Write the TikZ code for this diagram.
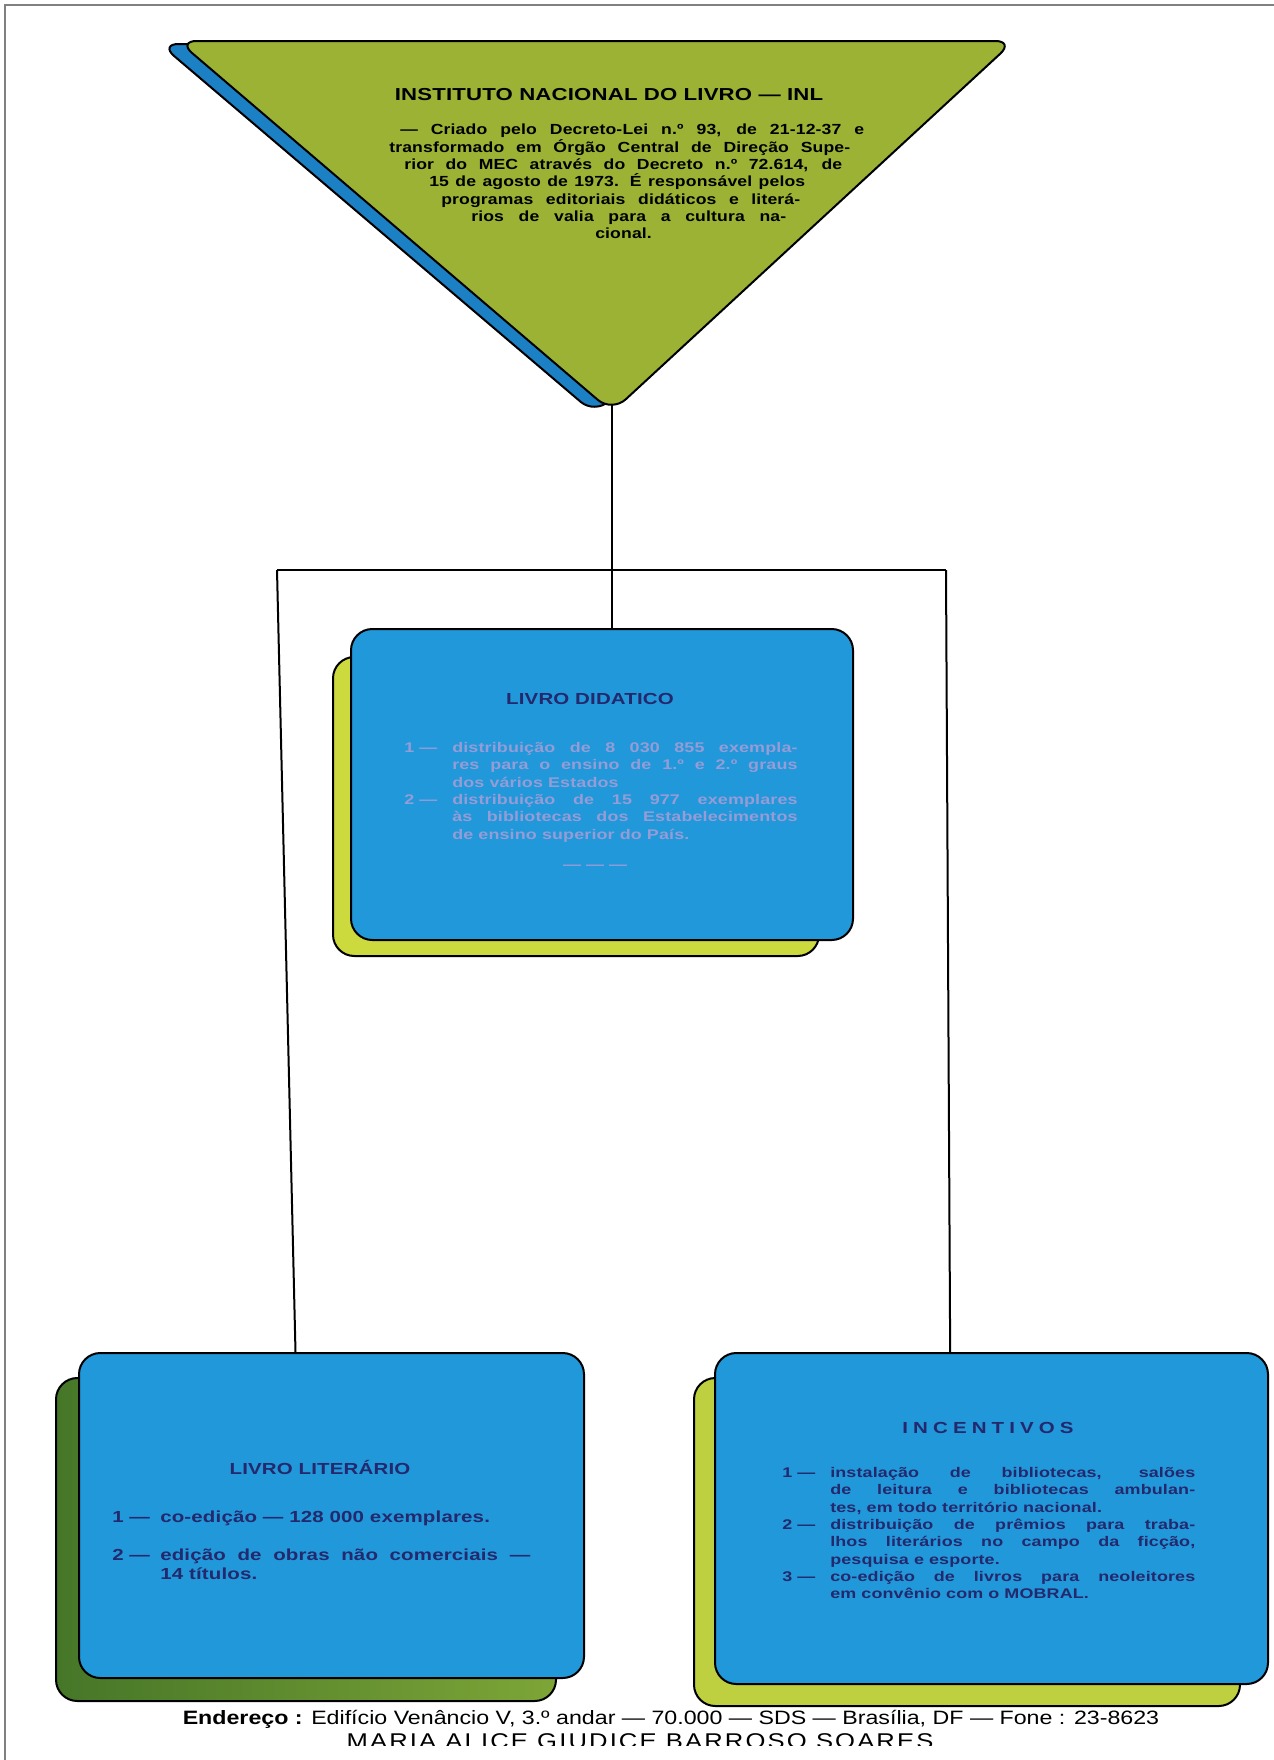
\documentclass[tikz,border=0pt]{standalone}
\usepackage{fontspec}
\setmainfont{Liberation Sans}
\newfontfamily\chartfont[FakeStretch=1.28,LetterSpace=1]{Liberation Sans}
\newfontfamily\inlfont[FakeStretch=1.2,LetterSpace=1]{Liberation Sans}
\newfontfamily\spacedfont[FakeStretch=1.28,LetterSpace=32]{Liberation Sans}
\newfontfamily\footfont[FakeStretch=1.2]{Liberation Sans}
\newfontfamily\authorfont[FakeStretch=1.2,LetterSpace=10]{Liberation Sans}
\usepackage{tikz}

\tolerance=9999
\hyphenpenalty=10000
\exhyphenpenalty=10000

\definecolor{inlgreen}{RGB}{155,178,52}
\definecolor{inlblue}{RGB}{28,128,196}
\definecolor{boxblue}{RGB}{33,152,218}
\definecolor{didshadow}{RGB}{205,218,62}
\definecolor{litdark}{RGB}{70,118,40}
\definecolor{litlight}{RGB}{125,165,55}
\definecolor{incshadow}{RGB}{190,208,64}
\definecolor{navytext}{RGB}{36,40,108}
\definecolor{paletext}{RGB}{150,156,214}

\newcommand{\numitem}[2]{\par\noindent\hangindent=36pt\hangafter=1\makebox[36pt][l]{#1 —}#2\par}

\tikzset{
  outline/.style={draw=black, line width=1.5pt, line join=round},
  card/.style={outline, rounded corners=16pt, inner sep=0pt},
  link/.style={draw=black, line width=1.5pt},
  cardtitle/.style={inner sep=0pt, font=\chartfont\bfseries\fontsize{12}{14}\selectfont},
  cardtext/.style={anchor=north west, inner sep=0pt, text width=#1, align=justify,
    font=\chartfont\bfseries\fontsize{10.5}{13}\selectfont},
}

\begin{document}
\begin{tikzpicture}[x=0.75pt,y=0.75pt,yscale=-1]
\useasboundingbox (0,0) rectangle (1274,1760);

%Straight Lines (page edge)
\draw [color=gray, line width=0.8pt] (5,1760) -- (5,5) -- (1274,5) ;

%Shape: Triangle (shadow)
\draw [outline, fill=inlblue, rounded corners=14pt] (160,44) -- (996,44) -- (595,414) -- cycle ;
%Shape: Triangle
\draw [outline, fill=inlgreen, rounded corners=14pt] (178,41) -- (1014,41) -- (612,412) -- cycle ;
\coordinate (inl-tip) at (612,404) ;

%Rounded Rect (shadows)
\node [card, fill=didshadow, minimum width=364.5pt, minimum height=224.25pt] (didatico-sombra) at (576,806.5) {} ;
\node [card, left color=litdark, right color=litlight, minimum width=375pt, minimum height=242.25pt] (literario-sombra) at (306,1539.5) {} ;
\node [card, fill=incshadow, minimum width=409.5pt, minimum height=246pt] (incentivos-sombra) at (967,1542) {} ;

%Rounded Rect
\node [card, fill=boxblue, minimum width=376.5pt, minimum height=233.25pt] (didatico) at (602,784.5) {} ;
\node [card, fill=boxblue, minimum width=378.75pt, minimum height=243.75pt] (literario) at (331.5,1515.5) {} ;
\node [card, fill=boxblue, minimum width=414.75pt, minimum height=248.25pt] (incentivos) at (991.5,1518.5) {} ;

%Straight Lines
\coordinate (jl) at (277,570) ;
\coordinate (jr) at (946,570) ;
\draw [link] (inl-tip) -- (inl-tip |- didatico.north) ;
\draw [link] (jl) -- (jr) ;
\draw [link] (jl) -- ([xshift=-27pt]literario.north) ;
\draw [link] (jr) -- ([xshift=-31pt]incentivos.north) ;

% Text Node
\node [inner sep=0pt, font=\chartfont\bfseries\fontsize{13}{15}\selectfont] (inl) at (609,95) {INSTITUTO NACIONAL DO LIVRO — INL} ;
% Text Node
\node [cardtext=356.25pt, font=\inlfont\bfseries\fontsize{11}{13}\selectfont] (inl-texto) at (389,124)
  {\noindent\parshape 7 8.25pt 348pt 0pt 345.75pt 11.25pt 328.5pt 30pt 282pt 39pt 269.25pt 61.5pt 236.25pt 154.5pt 75pt
   — Criado pelo Decreto-Lei n.º 93, de 21-12-37 e\linebreak
   transformado em Órgão Central de Direção Supe-\linebreak
   rior do MEC através do Decreto n.º 72.614, de\linebreak
   15 de agosto de 1973. É responsável pelos\linebreak
   programas editoriais didáticos e literá-\linebreak
   rios de valia para a cultura na-\linebreak
   cional.\par} ;

% Text Node
\node [cardtitle, text=navytext] (didatico-titulo) at (590,699) {LIVRO DIDATICO} ;
% Text Node
\node [cardtext=295pt, text=paletext] (didatico-texto) at (404,735)
  {\numitem{1}{distribuição de 8 030 855 exempla-\linebreak res para o ensino de 1.º e 2.º graus\linebreak dos vários Estados}%
   \numitem{2}{distribuição de 15 977 exemplares\linebreak às bibliotecas dos Estabelecimentos\linebreak de ensino superior do País.}} ;
% Text Node
\node [inner sep=0pt, text=paletext, font=\chartfont\bfseries\fontsize{10.5}{13}\selectfont] (didatico-fim) at (595,867) {— — —} ;

% Text Node
\node [cardtitle, text=navytext] (literario-titulo) at (320,1467) {LIVRO LITERÁRIO} ;
% Text Node
\node [cardtext=313.5pt, text=navytext, font=\chartfont\bfseries\fontsize{12}{14.3}\selectfont] (literario-texto) at (112,1503)
  {\numitem{1}{co-edição — 128 000 exemplares.}\vskip 14pt
   \numitem{2}{edição de obras não comerciais —\linebreak 14 títulos.}} ;

% Text Node
\node [inner sep=0pt, text=navytext, font=\spacedfont\bfseries\fontsize{12}{14}\selectfont] (incentivos-titulo) at (988,1428) {INCENTIVOS} ;
% Text Node
\node [cardtext=309.75pt, text=navytext] (incentivos-texto) at (782,1460)
  {\numitem{1}{instalação de bibliotecas, salões\linebreak de leitura e bibliotecas ambulan-\linebreak tes, em todo território nacional.}%
   \numitem{2}{distribuição de prêmios para traba-\linebreak lhos literários no campo da ficção,\linebreak pesquisa e esporte.}%
   \numitem{3}{co-edição de livros para neoleitores\linebreak em convênio com o MOBRAL.}} ;

% Text Node
\node [anchor=base, inner sep=0pt, font=\footfont\fontsize{14.5}{16}\selectfont] (endereco) at (671,1724)
  {\textbf{Endereço :} Edifício Venâncio V, 3.º andar — 70.000 — SDS — Brasília, DF — Fone : 23-8623} ;
% Text Node
\begin{scope}
\clip (0,0) rectangle (1274,1745) ;
\node [anchor=base, inner sep=0pt, font=\authorfont\fontsize{16}{18}\selectfont] (autora) at (640,1748) {MARIA ALICE GIUDICE BARROSO SOARES} ;
\end{scope}

\end{tikzpicture}
\end{document}
